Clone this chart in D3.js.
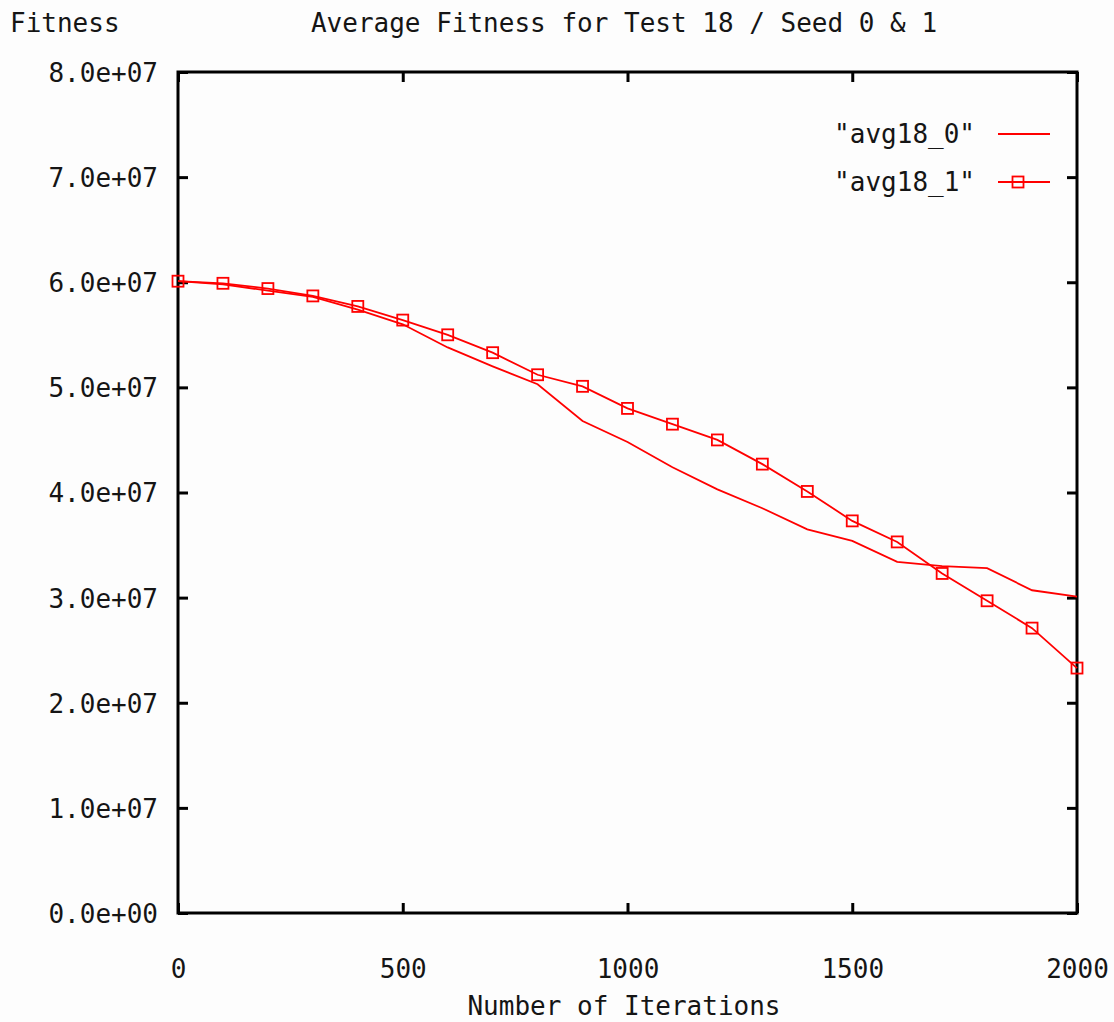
<!DOCTYPE html>
<html>
<head>
<meta charset="utf-8">
<script src="https://cdn.jsdelivr.net/npm/d3@7"></script>
<style>
  html, body { margin: 0; padding: 0; background: #fdfdfd; }
  svg { display: block; }
  text { font-family: "DejaVu Sans Mono", "Liberation Mono", monospace; fill: #151515; }
</style>
</head>
<body>
<svg id="chart" width="1114" height="1022"></svg>
<script>
// Iteration count for each sample (every 100 iterations)
const iterations = [0, 100, 200, 300, 400, 500, 600, 700, 800, 900, 1000,
                    1100, 1200, 1300, 1400, 1500, 1600, 1700, 1800, 1900, 2000];

// Average fitness, seed 0
const avg18_0 = [6.01e7, 5.98e7, 5.92e7, 5.86e7, 5.74e7, 5.60e7, 5.38e7, 5.20e7, 5.03e7, 4.68e7, 4.48e7,
                 4.24e7, 4.03e7, 3.85e7, 3.65e7, 3.54e7, 3.34e7, 3.30e7, 3.28e7, 3.07e7, 3.01e7];

// Average fitness, seed 1
const avg18_1 = [6.01e7, 5.99e7, 5.94e7, 5.87e7, 5.77e7, 5.64e7, 5.50e7, 5.33e7, 5.12e7, 5.01e7, 4.80e7,
                 4.65e7, 4.50e7, 4.27e7, 4.01e7, 3.73e7, 3.53e7, 3.23e7, 2.97e7, 2.71e7, 2.33e7];

const yTicks = [0, 1e7, 2e7, 3e7, 4e7, 5e7, 6e7, 7e7, 8e7];
const yTickLabels = ["0.0e+00", "1.0e+07", "2.0e+07", "3.0e+07", "4.0e+07",
                     "5.0e+07", "6.0e+07", "7.0e+07", "8.0e+07"];
const xTicks = [0, 500, 1000, 1500, 2000];
const xTickLabels = ["0", "500", "1000", "1500", "2000"];

const seriesNames = ["\"avg18_0\"", "\"avg18_1\""];

const svg = d3.select("#chart");
const plotLeft = 178, plotRight = 1077, plotTop = 72, plotBottom = 913;
const red = "#ff0000";
const fontSize = 26;

const x = d3.scaleLinear().domain([0, 2000]).range([plotLeft, plotRight]);
const y = d3.scaleLinear().domain([0, 8e7]).range([plotBottom, plotTop]);

// Axes with inward ticks
function styleAxis(g) {
  g.select(".domain").remove();
  g.selectAll(".tick line").attr("stroke", "#000").attr("stroke-width", 3);
  g.selectAll(".tick text").attr("font-size", fontSize).attr("fill", "#151515");
}

svg.append("g")
  .attr("transform", `translate(${plotLeft},0)`)
  .call(d3.axisLeft(y).tickValues(yTicks).tickSize(-10).tickPadding(20)
        .tickFormat((d, i) => yTickLabels[i]))
  .call(styleAxis)
  .selectAll(".tick text").attr("dy", "0.36em");

svg.append("g")
  .attr("transform", `translate(${plotRight},0)`)
  .call(d3.axisRight(y).tickValues(yTicks).tickSize(-10).tickFormat(""))
  .call(styleAxis);

svg.append("g")
  .attr("transform", `translate(0,${plotBottom})`)
  .call(d3.axisBottom(x).tickValues(xTicks).tickSize(-10).tickPadding(47)
        .tickFormat((d, i) => xTickLabels[i]))
  .call(styleAxis);

svg.append("g")
  .attr("transform", `translate(0,${plotTop})`)
  .call(d3.axisTop(x).tickValues(xTicks).tickSize(-10).tickFormat(""))
  .call(styleAxis);

// Plot frame
svg.append("rect")
  .attr("x", plotLeft).attr("y", plotTop)
  .attr("width", plotRight - plotLeft).attr("height", plotBottom - plotTop)
  .attr("fill", "none").attr("stroke", "#000").attr("stroke-width", 3);

// Series lines
const line = d3.line().x((d, i) => x(iterations[i])).y(d => y(d));

svg.append("path").datum(avg18_0)
  .attr("d", line).attr("fill", "none")
  .attr("stroke", red).attr("stroke-width", 1.8);

svg.append("path").datum(avg18_1)
  .attr("d", line).attr("fill", "none")
  .attr("stroke", red).attr("stroke-width", 1.8);

const box = 11;
svg.append("g").selectAll("rect").data(avg18_1).join("rect")
  .attr("x", (d, i) => x(iterations[i]) - box / 2)
  .attr("y", d => y(d) - box / 2)
  .attr("width", box).attr("height", box)
  .attr("fill", "none").attr("stroke", red).attr("stroke-width", 1.8);

// Legend
const legend = svg.append("g");
[0, 1].forEach(k => {
  const ly = 134 + k * 48;
  legend.append("text")
    .attr("x", 975).attr("y", ly).attr("dy", "0.36em")
    .attr("text-anchor", "end").attr("font-size", fontSize)
    .text(seriesNames[k]);
  legend.append("line")
    .attr("x1", 998).attr("x2", 1050).attr("y1", ly).attr("y2", ly)
    .attr("stroke", red).attr("stroke-width", 1.8);
  if (k === 1) {
    legend.append("rect")
      .attr("x", 1018 - box / 2).attr("y", ly - box / 2)
      .attr("width", box).attr("height", box)
      .attr("fill", "none").attr("stroke", red).attr("stroke-width", 1.8);
  }
});

// Titles
svg.append("text")
  .attr("x", 10).attr("y", 32).attr("font-size", fontSize)
  .text("Fitness");

svg.append("text")
  .attr("x", 624).attr("y", 32).attr("text-anchor", "middle").attr("font-size", fontSize)
  .text("Average Fitness for Test 18 / Seed 0 & 1");

svg.append("text")
  .attr("x", 624).attr("y", 1015).attr("text-anchor", "middle").attr("font-size", fontSize)
  .text("Number of Iterations");
</script>
</body>
</html>
